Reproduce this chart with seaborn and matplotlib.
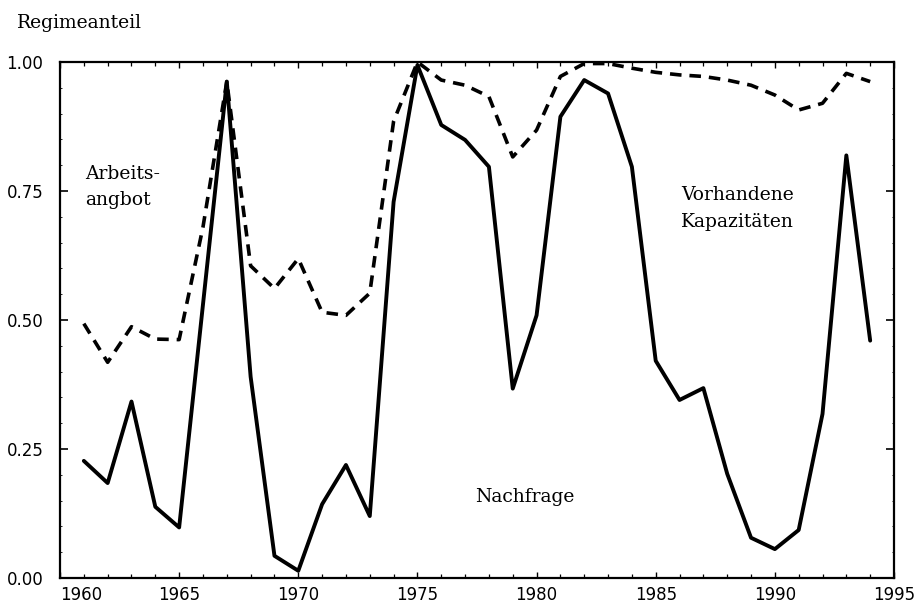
import matplotlib
matplotlib.use("Agg")
import matplotlib.pyplot as plt
import seaborn as sns
import pandas as pd
from matplotlib.ticker import MultipleLocator, FixedLocator

years = list(range(1961, 1995))
nachfrage = [0.227, 0.184, 0.342, 0.138, 0.098, 0.53, 0.962, 0.39, 0.043, 0.014,
             0.143, 0.219, 0.120, 0.729, 0.994, 0.878, 0.849, 0.797, 0.367, 0.509,
             0.894, 0.965, 0.939, 0.797, 0.421, 0.345, 0.368, 0.202, 0.078, 0.056,
             0.093, 0.318, 0.819, 0.460]
arbeitsangebot = [0.493, 0.418, 0.487, 0.463, 0.462, 0.68, 0.962, 0.605, 0.561, 0.619,
                  0.515, 0.509, 0.552, 0.885, 1.0, 0.965, 0.955, 0.933, 0.816, 0.868,
                  0.972, 0.997, 0.997, 0.988, 0.980, 0.975, 0.972, 0.965, 0.955, 0.936,
                  0.907, 0.920, 0.978, 0.962]
xticks = [1960, 1965, 1970, 1975, 1980, 1985, 1990, 1995]
yticks = [0.0, 0.25, 0.5, 0.75, 1.0]
ylabels = ["0.00", "0.25", "0.50", "0.75", "1.00"]

df = pd.DataFrame({"Jahr": years, "Nachfrage": nachfrage, "Arbeitsangebot": arbeitsangebot})

sns.set_style("ticks")
plt.rcParams["font.family"] = ["DejaVu Sans"]
plt.rcParams["text.color"] = "black"

fig = plt.figure(figsize=(9.17, 6.03), dpi=100)
ax = fig.add_axes([60/917, 25/603, 834/917, 516/603])

sns.lineplot(data=df, x="Jahr", y="Nachfrage", ax=ax, color="black", linewidth=2.8)
sns.lineplot(data=df, x="Jahr", y="Arbeitsangebot", ax=ax, color="black", linewidth=2.6,
             linestyle=(0, (3.2, 2.2)))

ax.set_xlim(1960, 1995)
ax.set_ylim(0, 1)
ax.set_xlabel("")
ax.set_ylabel("")
ax.xaxis.set_major_locator(FixedLocator(xticks))
ax.xaxis.set_minor_locator(MultipleLocator(1))
ax.yaxis.set_major_locator(FixedLocator(yticks))
ax.yaxis.set_minor_locator(MultipleLocator(0.05))
ax.set_xticklabels([str(x) for x in xticks])
ax.set_yticklabels(ylabels)
ax.get_xticklabels()[0].set_horizontalalignment("left")

ax.tick_params(axis="both", which="both", direction="in", top=True, right=True,
               labelsize=12, colors="black")
ax.tick_params(axis="x", which="major", length=4, width=1.0, pad=6)
ax.tick_params(axis="x", which="minor", length=3, width=0.9)
ax.tick_params(axis="y", which="major", length=6, width=1.2, pad=12)
ax.tick_params(axis="y", which="minor", length=1.5, width=0.6)
for s in ax.spines.values():
    s.set_linewidth(1.6)
    s.set_color("black")

serif = ["DejaVu Serif"]
fs = 13.5
fig.text(17/917, 1 - 23/603, "Regimeanteil", family=serif, fontsize=fs, va="center", ha="left",
         color="black")
ax.text(1961.05, 0.758, "Arbeits-\nangbot", family=serif, fontsize=fs, va="center", ha="left",
        linespacing=1.6, color="black")
ax.text(1986.06, 0.716, "Vorhandene\nKapazitäten", family=serif, fontsize=fs, va="center",
        ha="left", linespacing=1.6, color="black")
ax.text(1977.4, 0.157, "Nachfrage", family=serif, fontsize=fs, va="center", ha="left",
        color="black")

fig.savefig("out.png", dpi=100)
